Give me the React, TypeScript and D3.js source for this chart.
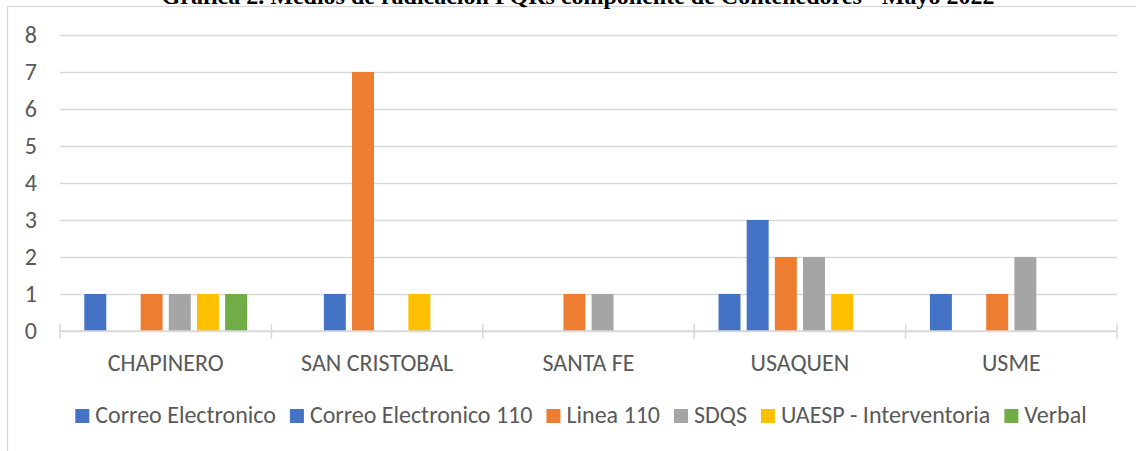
import React, { useEffect, useRef } from "react";
import * as d3 from "d3";

// districts on the x axis
const categories = ["CHAPINERO", "SAN CRISTOBAL", "SANTA FE", "USAQUEN", "USME"];

const seriesNames = [
  "Correo Electronico",
  "Correo Electronico 110",
  "Linea 110",
  "SDQS",
  "UAESP - Interventoria",
  "Verbal",
];
const seriesColors = ["#4472C4", "#4472C4", "#ED7D31", "#A5A5A5", "#FFC000", "#70AD47"];

// one array per series, in category order
const correoElectronico = [1, 0, 0, 1, 1];
const correoElectronico110 = [0, 1, 0, 3, 0];
const linea110 = [1, 7, 1, 2, 1];
const sdqs = [1, 0, 1, 2, 2];
const uaespInterventoria = [1, 1, 0, 1, 0];
const verbal = [1, 0, 0, 0, 0];

const yTicks = [0, 1, 2, 3, 4, 5, 6, 7, 8];

const title = "Gráfica 2. Medios de radicación PQRs componente de Contenedores - Mayo 2022";

const W = 1136;
const H = 451;
const FONT = "Calibri, Carlito, Lato, sans-serif";
const FS = 24;
const TEXT = "#595959";
const GRID = "#D9D9D9";

export default function App() {
  const ref = useRef<SVGSVGElement>(null);

  useEffect(() => {
    const svg = d3.select(ref.current).html("");
    const values = [correoElectronico, correoElectronico110, linea110, sdqs, uaespInterventoria, verbal];

    const margin = { top: 35, right: 19, bottom: 120, left: 60 };
    const width = W - margin.left - margin.right;
    const height = H - margin.top - margin.bottom;

    // chart border
    svg.append("rect")
      .attr("x", 7.5).attr("y", 6.5)
      .attr("width", W + 20).attr("height", H + 20)
      .attr("fill", "none").attr("stroke", GRID).attr("stroke-width", 1.3);

    // title (sits above the chart box, partly outside the picture)
    svg.append("text")
      .attr("x", 578).attr("y", 4)
      .attr("text-anchor", "middle")
      .attr("font-family", "'Times New Roman', 'Liberation Serif', serif")
      .attr("font-weight", "bold")
      .attr("font-size", 24)
      .attr("fill", "#000")
      .text(title);

    const x0 = d3.scaleBand<string>().domain(categories).range([0, width]);
    const bw = x0.bandwidth();
    const x1 = d3.scaleBand<string>()
      .domain(seriesNames)
      .range([bw * 0.115, bw * 0.885])
      .paddingInner(0.22);

    const y = d3.scaleLinear().domain([0, 8]).range([height, 0]);

    const g = svg.append("g")
      .attr("transform", `translate(${margin.left},${margin.top})`);

    // y axis with gridlines
    const yAxis = g.append("g")
      .call(d3.axisLeft(y).tickValues(yTicks).tickSizeInner(-width).tickSizeOuter(0).tickPadding(23));
    yAxis.select(".domain").remove();
    yAxis.selectAll("line").attr("stroke", GRID).attr("stroke-width", 1.5);
    yAxis.selectAll("text")
      .attr("fill", TEXT)
      .attr("font-family", FONT)
      .attr("font-size", FS);

    // bars
    const groups = g.selectAll(".grp")
      .data(categories)
      .join("g")
      .attr("class", "grp")
      .attr("transform", d => `translate(${x0(d)},0)`);

    groups.selectAll("rect")
      .data((d, i) => seriesNames.map((s, j) => ({ s, v: values[j][i], c: seriesColors[j] })).filter(e => e.v > 0))
      .join("rect")
      .attr("x", d => x1(d.s)!)
      .attr("width", x1.bandwidth())
      .attr("y", d => y(d.v))
      .attr("height", d => height - y(d.v))
      .attr("fill", d => d.c);

    // x axis line + boundary ticks
    g.append("line")
      .attr("x1", 0).attr("x2", width)
      .attr("y1", height).attr("y2", height)
      .attr("stroke", GRID).attr("stroke-width", 1.5);

    const bounds = categories.map(c => x0(c)!).concat([width]);
    g.selectAll(".btick")
      .data(bounds)
      .join("line")
      .attr("class", "btick")
      .attr("x1", d => d).attr("x2", d => d)
      .attr("y1", height - 7).attr("y2", height + 8)
      .attr("stroke", GRID).attr("stroke-width", 1.5);

    const xAxis = g.append("g")
      .attr("transform", `translate(0,${height})`)
      .call(d3.axisBottom(x0).tickSize(0));
    xAxis.select(".domain").remove();
    xAxis.selectAll("text")
      .attr("y", 40)
      .attr("dy", 0)
      .attr("fill", TEXT)
      .attr("font-family", FONT)
      .attr("font-size", FS);

    // legend
    const legend = svg.append("g");
    let cx = 0;
    seriesNames.forEach((name, i) => {
      const item = legend.append("g").attr("transform", `translate(${cx},0)`);
      item.append("rect")
        .attr("x", 0).attr("y", 409)
        .attr("width", 14).attr("height", 14)
        .attr("fill", seriesColors[i]);
      const t = item.append("text")
        .attr("x", 20).attr("y", 423)
        .attr("fill", TEXT)
        .attr("font-family", FONT)
        .attr("font-size", FS)
        .text(name);
      const tw = (t.node() as SVGTextElement).getComputedTextLength();
      cx += 20 + tw + 14;
    });
    const total = cx - 14;
    legend.attr("transform", `translate(${581 - total / 2},0)`);
  }, []);

  return (
    <svg ref={ref} width={W} height={H}
      style={{ position: "absolute", left: 0, top: 0, background: "#fff" }} />
  );
}
